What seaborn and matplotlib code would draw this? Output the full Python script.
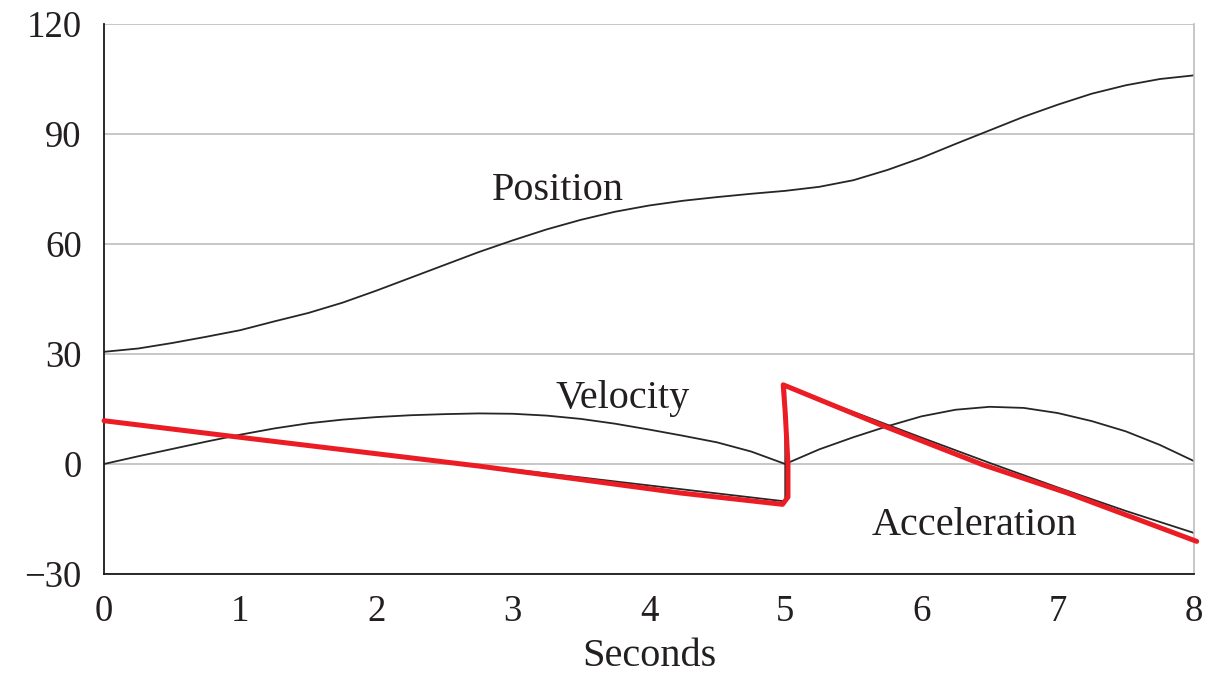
import seaborn as sns
import pandas as pd
import matplotlib.pyplot as plt

# values
seconds = [0.0, 0.25, 0.5, 0.75, 1.0, 1.25, 1.5, 1.75, 2.0, 2.25, 2.5, 2.75, 3.0, 3.25, 3.5, 3.75,
           4.0, 4.25, 4.5, 4.75, 5.0, 5.25, 5.5, 5.75, 6.0, 6.25, 6.5, 6.75, 7.0, 7.25, 7.5, 7.75, 8.0]
position = [30.6, 31.5, 33.0, 34.7, 36.5, 38.9, 41.2, 44.0, 47.3, 50.8, 54.3, 57.8, 61.0, 64.0, 66.6, 68.8,
            70.5, 71.8, 72.8, 73.7, 74.5, 75.6, 77.4, 80.2, 83.5, 87.3, 91.0, 94.7, 98.0, 101.0, 103.3, 105.0, 106.0]
velocity = [0.0, 2.1, 4.1, 6.1, 8.0, 9.7, 11.1, 12.1, 12.8, 13.3, 13.6, 13.8, 13.7, 13.2, 12.3, 11.0,
            9.4, 7.7, 5.9, 3.4, 0.0, 4.0, 7.3, 10.3, 13.0, 14.8, 15.6, 15.3, 13.9, 11.7, 8.9, 5.2, 0.8]

accel_t = [0.0, 5.0, 5.0, 5.5, 6.0, 6.5, 7.0, 7.5, 8.0]
accel = [11.6, -10.2, 21.2, 14.2, 7.2, 0.3, -6.4, -12.8, -18.8]

# hand-drawn red overlay
red_t = [0.0, 0.95, 2.0, 2.76, 3.49, 4.23, 4.98, 5.02, 5.02, 5.0, 4.985, 5.70, 6.45, 7.07, 8.02]
red_v = [11.8, 7.5, 2.8, -0.6, -4.2, -7.9, -11.0, -9.0, 0.0, 14.0, 21.6, 10.7, -0.2, -7.9, -21.1]

yticks = [-30, 0, 30, 60, 90, 120]
xticks = [0, 1, 2, 3, 4, 5, 6, 7, 8]

sns.set_theme(style="white")
plt.rcParams['font.family'] = ['Liberation Serif', 'DejaVu Serif']
txt = '#231f20'

fig, ax = plt.subplots(figsize=(12.14, 6.73), dpi=100)
fig.subplots_adjust(left=0.0857, right=0.9835, top=0.9643, bottom=0.1471)

curves = pd.DataFrame({'t': seconds, 'Position': position, 'Velocity': velocity})
sns.lineplot(data=curves, x='t', y='Position', color='#262626', lw=1.3, ax=ax)
sns.lineplot(data=curves, x='t', y='Velocity', color='#262626', lw=1.3, ax=ax)
acc_df = pd.DataFrame({'t': accel_t, 'a': accel})
sns.lineplot(data=acc_df, x='t', y='a', color='#262626', lw=1.3, sort=False, estimator=None, ax=ax)
red_df = pd.DataFrame({'t': red_t, 'a': red_v})
sns.lineplot(data=red_df, x='t', y='a', color='#ec1c24', lw=3.6, sort=False, estimator=None,
             ax=ax, clip_on=False, zorder=5)

ax.set_xlim(0, 8)
ax.set_ylim(-30, 120)
ax.set_xticks(xticks)
ax.set_yticks(yticks)
ax.set_yticklabels(['\u221230', '0', '30', '60', '90', '120'])
ax.yaxis.grid(True, color='#bdbdbd', lw=1.2)
ax.set_axisbelow(True)

for s in ['left', 'bottom']:
    ax.spines[s].set_color('#1a1a1a')
    ax.spines[s].set_linewidth(1.3)
ax.spines['top'].set_visible(False)
ax.spines['right'].set_color('#bdbdbd')
ax.spines['right'].set_linewidth(1.2)

ax.tick_params(axis='both', direction='out', length=8, width=1.3, color='#1a1a1a',
               labelsize=26.5, labelcolor=txt)
ax.tick_params(axis='x', pad=7)
ax.tick_params(axis='y', pad=8)

ax.set_xlabel('Seconds', fontsize=29, color=txt, labelpad=6)
ax.set_ylabel('')

ax.text(3.33, 74.5, 'Position', fontsize=29, color=txt, ha='center', va='center')
ax.text(3.81, 17.9, 'Velocity', fontsize=29, color=txt, ha='center', va='center')
ax.text(6.39, -16.7, 'Acceleration', fontsize=29, color=txt, ha='center', va='center')

plt.savefig('out.png', dpi=100)
